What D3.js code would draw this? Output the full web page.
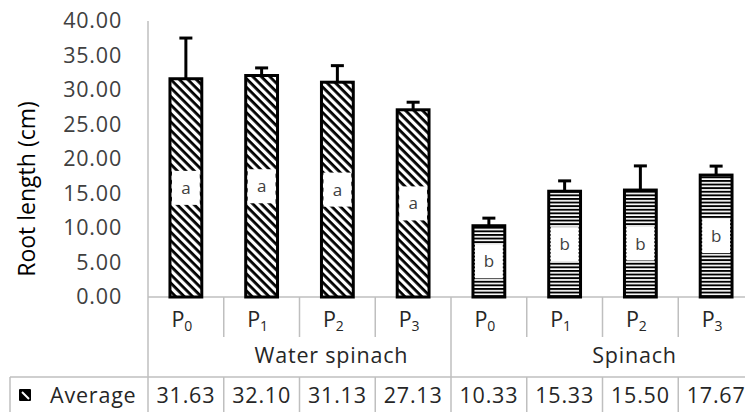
<!DOCTYPE html>
<html>
<head>
<meta charset="utf-8">
<script src="https://cdn.jsdelivr.net/npm/d3@7"></script>
<style>
  body { margin: 0; background: #fff; }
  svg { display: block; font-family: "Open Sans", sans-serif; }
</style>
</head>
<body>
<div id="chart"></div>
<script>
// data
var groups = ["Water spinach", "Spinach"];
var treatments = ["0", "1", "2", "3"];   // P subscripts
var averages = [31.63, 32.10, 31.13, 27.13, 10.33, 15.33, 15.50, 17.67];
var errors = [5.9, 1.1, 2.4, 1.1, 1.1, 1.5, 3.5, 1.3];
var letters = ["a", "a", "a", "a", "b", "b", "b", "b"];
var yTicks = [0, 5, 10, 15, 20, 25, 30, 35, 40];

var width = 745, height = 412;
var gridColor = "#bfbfbf";
var fs = 21.5, ls = "0.8px";

// one entry per bar
var data = averages.map(function(v, i) {
  return {
    key: i,
    group: Math.floor(i / treatments.length),
    sub: treatments[i % treatments.length],
    value: v,
    err: errors[i],
    letter: letters[i]
  };
});

var svg = d3.select("#chart").append("svg")
  .attr("width", width)
  .attr("height", height);

var defs = svg.append("defs");

// diagonal hatch for water spinach
var diag = defs.append("pattern")
  .attr("id", "diag")
  .attr("patternUnits", "userSpaceOnUse")
  .attr("width", 6).attr("height", 6)
  .attr("patternTransform", "rotate(45)");
diag.append("rect").attr("width", 6).attr("height", 6).attr("fill", "#fff");
diag.append("rect").attr("width", 6).attr("height", 2.8).attr("fill", "#000");

// horizontal stripes for spinach
var horiz = defs.append("pattern")
  .attr("id", "horiz")
  .attr("patternUnits", "userSpaceOnUse")
  .attr("width", 8).attr("height", 3.6);
horiz.append("rect").attr("width", 8).attr("height", 3.6).attr("fill", "#fff");
horiz.append("rect").attr("width", 8).attr("height", 1.9).attr("fill", "#000");

var x = d3.scaleBand()
  .domain(data.map(function(d) { return d.key; }))
  .range([148, 754])
  .paddingInner(0).paddingOuter(0);

var y = d3.scaleLinear()
  .domain([0, 40])
  .range([297, 21]);

var band = x.bandwidth();
var barW = band * 0.42;

// y axis labels
var yAxis = d3.axisLeft(y)
  .tickValues(yTicks)
  .tickFormat(d3.format(".2f"))
  .tickSize(0)
  .tickPadding(0);

var yg = svg.append("g")
  .attr("transform", "translate(122,0)")
  .call(yAxis);
yg.select(".domain").remove();
yg.selectAll("text")
  .attr("font-size", fs)
  .attr("font-family", "Open Sans")
  .attr("letter-spacing", ls)
  .attr("fill", "#404040");

svg.append("text")
  .attr("transform", "translate(35,189) rotate(-90)")
  .attr("text-anchor", "middle")
  .attr("font-size", 23)
  .attr("fill", "#000")
  .text("Root length (cm)");

// table / axis lines
var lines = svg.append("g")
  .attr("stroke", gridColor)
  .attr("stroke-width", 1.5)
  .attr("fill", "none");

lines.append("line")
  .attr("x1", 148).attr("x2", 148)
  .attr("y1", y(40)).attr("y2", height);
lines.append("line")
  .attr("x1", 148).attr("x2", width)
  .attr("y1", y(0)).attr("y2", y(0));
lines.append("line")
  .attr("x1", 10).attr("x2", width)
  .attr("y1", 377).attr("y2", 377);
lines.append("line")
  .attr("x1", 10).attr("x2", 10)
  .attr("y1", 377).attr("y2", height);

// category separators
data.slice(1).forEach(function(d) {
  var bx = x(d.key);
  if (d.key % treatments.length === 0) {
    lines.append("line")
      .attr("x1", bx).attr("x2", bx)
      .attr("y1", y(0)).attr("y2", height);
  } else {
    lines.append("line")
      .attr("x1", bx).attr("x2", bx)
      .attr("y1", y(0)).attr("y2", 337);
    lines.append("line")
      .attr("x1", bx).attr("x2", bx)
      .attr("y1", 377).attr("y2", height);
  }
});

// bars
var bars = svg.append("g");

bars.selectAll(".bar")
  .data(data)
  .enter().append("rect")
  .attr("class", "bar")
  .attr("x", function(d) { return x(d.key) + (band - barW) / 2; })
  .attr("y", function(d) { return y(d.value); })
  .attr("width", barW)
  .attr("height", function(d) { return y(0) - y(d.value); })
  .attr("fill", function(d) { return d.group === 0 ? "url(#diag)" : "url(#horiz)"; })
  .attr("stroke", "#000")
  .attr("stroke-width", 3);

// error bars (upper only)
var err = svg.append("g")
  .attr("stroke", "#000")
  .attr("stroke-width", 3);

err.selectAll(".stem")
  .data(data)
  .enter().append("line")
  .attr("x1", function(d) { return x(d.key) + band / 2; })
  .attr("x2", function(d) { return x(d.key) + band / 2; })
  .attr("y1", function(d) { return y(d.value); })
  .attr("y2", function(d) { return y(d.value + d.err); });

err.selectAll(".cap")
  .data(data)
  .enter().append("line")
  .attr("x1", function(d) { return x(d.key) + band / 2 - 6.5; })
  .attr("x2", function(d) { return x(d.key) + band / 2 + 6.5; })
  .attr("y1", function(d) { return y(d.value + d.err); })
  .attr("y2", function(d) { return y(d.value + d.err); });

// letter boxes in the middle of each bar
var lab = svg.append("g");
lab.selectAll(".lbox")
  .data(data)
  .enter().append("rect")
  .attr("x", function(d) { return x(d.key) + (band - barW) / 2 + 2; })
  .attr("y", function(d) { return y(d.value / 2) - 17; })
  .attr("width", barW - 4)
  .attr("height", 34)
  .attr("fill", "#fff");

lab.selectAll(".ltext")
  .data(data)
  .enter().append("text")
  .attr("x", function(d) { return x(d.key) + band / 2; })
  .attr("y", function(d) { return y(d.value / 2) + 6; })
  .attr("text-anchor", "middle")
  .attr("font-size", 17)
  .attr("fill", "#404040")
  .text(function(d) { return d.letter; });

// treatment labels P0..P3
var pl = svg.append("g");
pl.selectAll(".pl")
  .data(data)
  .enter().append("text")
  .attr("x", function(d) { return x(d.key) + band / 2 - 4; })
  .attr("y", 327)
  .attr("text-anchor", "middle")
  .attr("font-size", fs)
  .attr("fill", "#262626")
  .each(function(d) {
    var t = d3.select(this);
    t.append("tspan").text("P");
    t.append("tspan")
      .attr("font-size", 14)
      .attr("dy", 4)
      .text(d.sub);
  });

// group labels
svg.selectAll(".grp")
  .data(groups)
  .enter().append("text")
  .attr("x", function(g, i) {
    var first = x(i * treatments.length);
    return first + band * treatments.length / 2 + 32;
  })
  .attr("y", 363)
  .attr("text-anchor", "middle")
  .attr("font-size", fs)
  .attr("letter-spacing", ls)
  .attr("fill", "#262626")
  .text(function(g) { return g; });

// data table row, legend key first
svg.append("rect")
  .attr("x", 19).attr("y", 389)
  .attr("width", 12).attr("height", 12)
  .attr("rx", 1)
  .attr("fill", "#000");
svg.append("line")
  .attr("x1", 22).attr("y1", 392)
  .attr("x2", 29).attr("y2", 399)
  .attr("stroke", "#fff")
  .attr("stroke-width", 2);

svg.append("text")
  .attr("x", 50).attr("y", 403)
  .attr("font-size", fs)
  .attr("letter-spacing", ls)
  .attr("fill", "#262626")
  .text("Average");

svg.selectAll(".val")
  .data(data)
  .enter().append("text")
  .attr("x", function(d) { return x(d.key) + band / 2; })
  .attr("y", 403)
  .attr("text-anchor", "middle")
  .attr("font-size", fs)
  .attr("letter-spacing", ls)
  .attr("fill", "#262626")
  .text(function(d) { return d3.format(".2f")(d.value); });
</script>
</body>
</html>
